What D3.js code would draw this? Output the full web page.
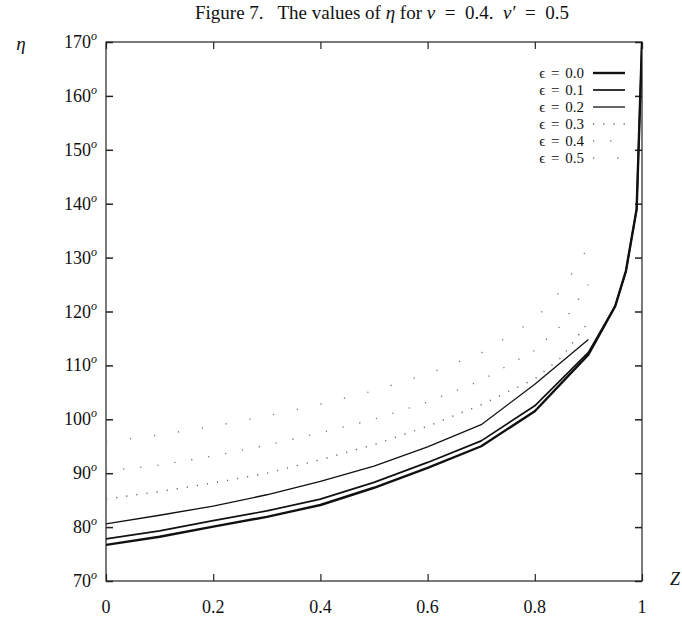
<!DOCTYPE html>
<html><head><meta charset="utf-8">
<script src="https://cdn.jsdelivr.net/npm/d3@7"></script>
<style>
html,body{margin:0;padding:0;background:#fff;}
svg{display:block;}
text{font-family:"Liberation Serif","DejaVu Serif",serif;fill:#111;}
</style></head>
<body>
<svg id="chart" width="682" height="617"></svg>
<script>
// ---- data ----
// title pieces: [text, italic?]
const titleParts = [["Figure 7.\u2002 The values of ", false], ["η", true], [" for ", false], ["ν", true],
  ["\u2002=\u20020.4.\u2002", false], ["ν′", true], ["\u2002=\u20020.5", false]];
const xTicks = [0, 0.2, 0.4, 0.6, 0.8, 1];
const xTickLabels = ["0", "0.2", "0.4", "0.6", "0.8", "1"];
const yTicks = [70, 80, 90, 100, 110, 120, 130, 140, 150, 160, 170];
const seriesNames = ["ϵ = 0.0", "ϵ = 0.1", "ϵ = 0.2", "ϵ = 0.3", "ϵ = 0.4", "ϵ = 0.5"];
const zA = [0, 0.1, 0.2, 0.3, 0.4, 0.5, 0.6, 0.7, 0.8, 0.9, 0.95, 0.97, 0.99, 1.0];
const eps00 = [76.7, 78.2, 80.1, 81.9, 84.1, 87.3, 91.0, 95.0, 101.5, 112.0, 121.0, 127.5, 139.0, 170.0];
const eps01 = [77.8, 79.3, 81.2, 83.0, 85.2, 88.3, 92.0, 96.0, 102.5, 112.4, 121.0, 127.5, 139.0, 170.0];
const zC = [0, 0.1, 0.2, 0.3, 0.4, 0.5, 0.6, 0.7, 0.8, 0.9];
const eps02 = [80.6, 82.2, 83.9, 86.0, 88.5, 91.3, 94.9, 99.0, 106.5, 114.8];
const zD = [0, 0.1, 0.2, 0.3, 0.4, 0.5, 0.6, 0.7, 0.8, 0.85, 0.9];
const eps03 = [85.2, 86.6, 88.2, 90.0, 92.5, 95.3, 98.7, 102.7, 107.5, 111.5, 118.0];
const eps04 = [90.4, 91.5, 93.2, 95.2, 97.5, 100.0, 103.2, 107.2, 112.8, 117.5, 125.0];
const eps05 = [95.8, 97.1, 98.7, 100.6, 102.8, 105.3, 108.4, 112.3, 118.5, 124.0, 132.0];

// ---- drawing ----
const svg = d3.select("#chart");
const L = 106, R = 642, T = 42, B = 581;
const x = d3.scaleLinear().domain([0, 1]).range([L, R]);
const y = d3.scaleLinear().domain([70, 170]).range([B, T]);

svg.append("defs").append("clipPath").attr("id", "clip")
  .append("rect").attr("x", L).attr("y", T).attr("width", R - L).attr("height", B - T);

// title
const tt = svg.append("text").attr("x", 382).attr("y", 19).attr("text-anchor", "middle")
  .style("font-size", "19px");
titleParts.forEach(([t, it]) => tt.append("tspan").style("font-style", it ? "italic" : "normal").text(t));

// frame
svg.append("rect").attr("x", L).attr("y", T).attr("width", R - L).attr("height", B - T)
  .attr("fill", "none").attr("stroke", "#222").attr("stroke-width", 1.2);

// y ticks (inward on both sides) & labels
const yAxisL = d3.axisLeft(y).tickValues(yTicks).tickSize(-7).tickFormat("");
const yAxisR = d3.axisRight(y).tickValues(yTicks).tickSize(-7).tickFormat("");
svg.append("g").attr("transform", `translate(${L},0)`).call(yAxisL)
  .call(g => g.select(".domain").remove())
  .selectAll("line").attr("stroke", "#222").attr("stroke-width", 1.5);
svg.append("g").attr("transform", `translate(${R},0)`).call(yAxisR)
  .call(g => g.select(".domain").remove())
  .selectAll("line").attr("stroke", "#222").attr("stroke-width", 1.5);

const yl = svg.append("g").selectAll("text").data(yTicks).join("text")
  .attr("x", 97).attr("y", d => y(d) + 6).attr("text-anchor", "end")
  .style("font-size", "18px");
yl.append("tspan").text(d => d);
yl.append("tspan").attr("dy", -8).style("font-size", "12px").style("font-style", "italic").text("o");

// x ticks (inward bottom and top) & labels
const xAxisB = d3.axisBottom(x).tickValues(xTicks).tickSize(-7).tickFormat("");
const xAxisT = d3.axisTop(x).tickValues(xTicks).tickSize(-7).tickFormat("");
svg.append("g").attr("transform", `translate(0,${B})`).call(xAxisB)
  .call(g => g.select(".domain").remove())
  .selectAll("line").attr("stroke", "#222").attr("stroke-width", 1.2);
svg.append("g").attr("transform", `translate(0,${T})`).call(xAxisT)
  .call(g => g.select(".domain").remove())
  .selectAll("line").attr("stroke", "#222").attr("stroke-width", 1.2);
svg.append("g").selectAll("text").data(xTicks).join("text")
  .attr("x", d => x(d)).attr("y", 613).attr("text-anchor", "middle")
  .style("font-size", "18px").text((d, i) => xTickLabels[i]);

// axis names
svg.append("text").attr("x", 21).attr("y", 50).attr("text-anchor", "middle")
  .style("font-size", "19px").style("font-style", "italic").text("η");
svg.append("text").attr("x", 675).attr("y", 585).attr("text-anchor", "middle")
  .style("font-size", "18px").style("font-style", "italic").text("Z");

// series
const series = [
  {z: zA, v: eps00, w: 2.4, dash: null, col: "#111"},
  {z: zA, v: eps01, w: 1.7, dash: null, col: "#111"},
  {z: zC, v: eps02, w: 1.3, dash: null, col: "#111"},
  {z: zD, v: eps03, w: 1.4, dash: "1.2,9", col: "#666"},
  {z: zD, v: eps04, w: 1.4, dash: "1.2,16", col: "#777"},
  {z: zD, v: eps05, w: 1.4, dash: "1.2,23", col: "#777"}
];
const line = d3.line().x(d => x(d[0])).y(d => y(d[1]));
const gL = svg.append("g").attr("clip-path", "url(#clip)");
series.forEach(s => {
  gL.append("path").datum(s.z.map((z, i) => [z, s.v[i]]))
    .attr("d", line).attr("fill", "none").attr("stroke", s.col)
    .attr("stroke-width", s.w).attr("stroke-dasharray", s.dash)
    .attr("stroke-linejoin", "round");
});

// legend
const lg = svg.append("g");
seriesNames.forEach((name, i) => {
  const yy = 73 + i * 17;
  lg.append("text").attr("x", 584).attr("y", yy + 5).attr("text-anchor", "end")
    .style("font-size", "15px").style("word-spacing", "2px").text(name);
  const s = series[i];
  lg.append("line").attr("x1", 593).attr("x2", 625).attr("y1", yy).attr("y2", yy)
    .attr("stroke", s.col).attr("stroke-width", s.w).attr("stroke-dasharray", s.dash);
});
</script>
</body></html>
